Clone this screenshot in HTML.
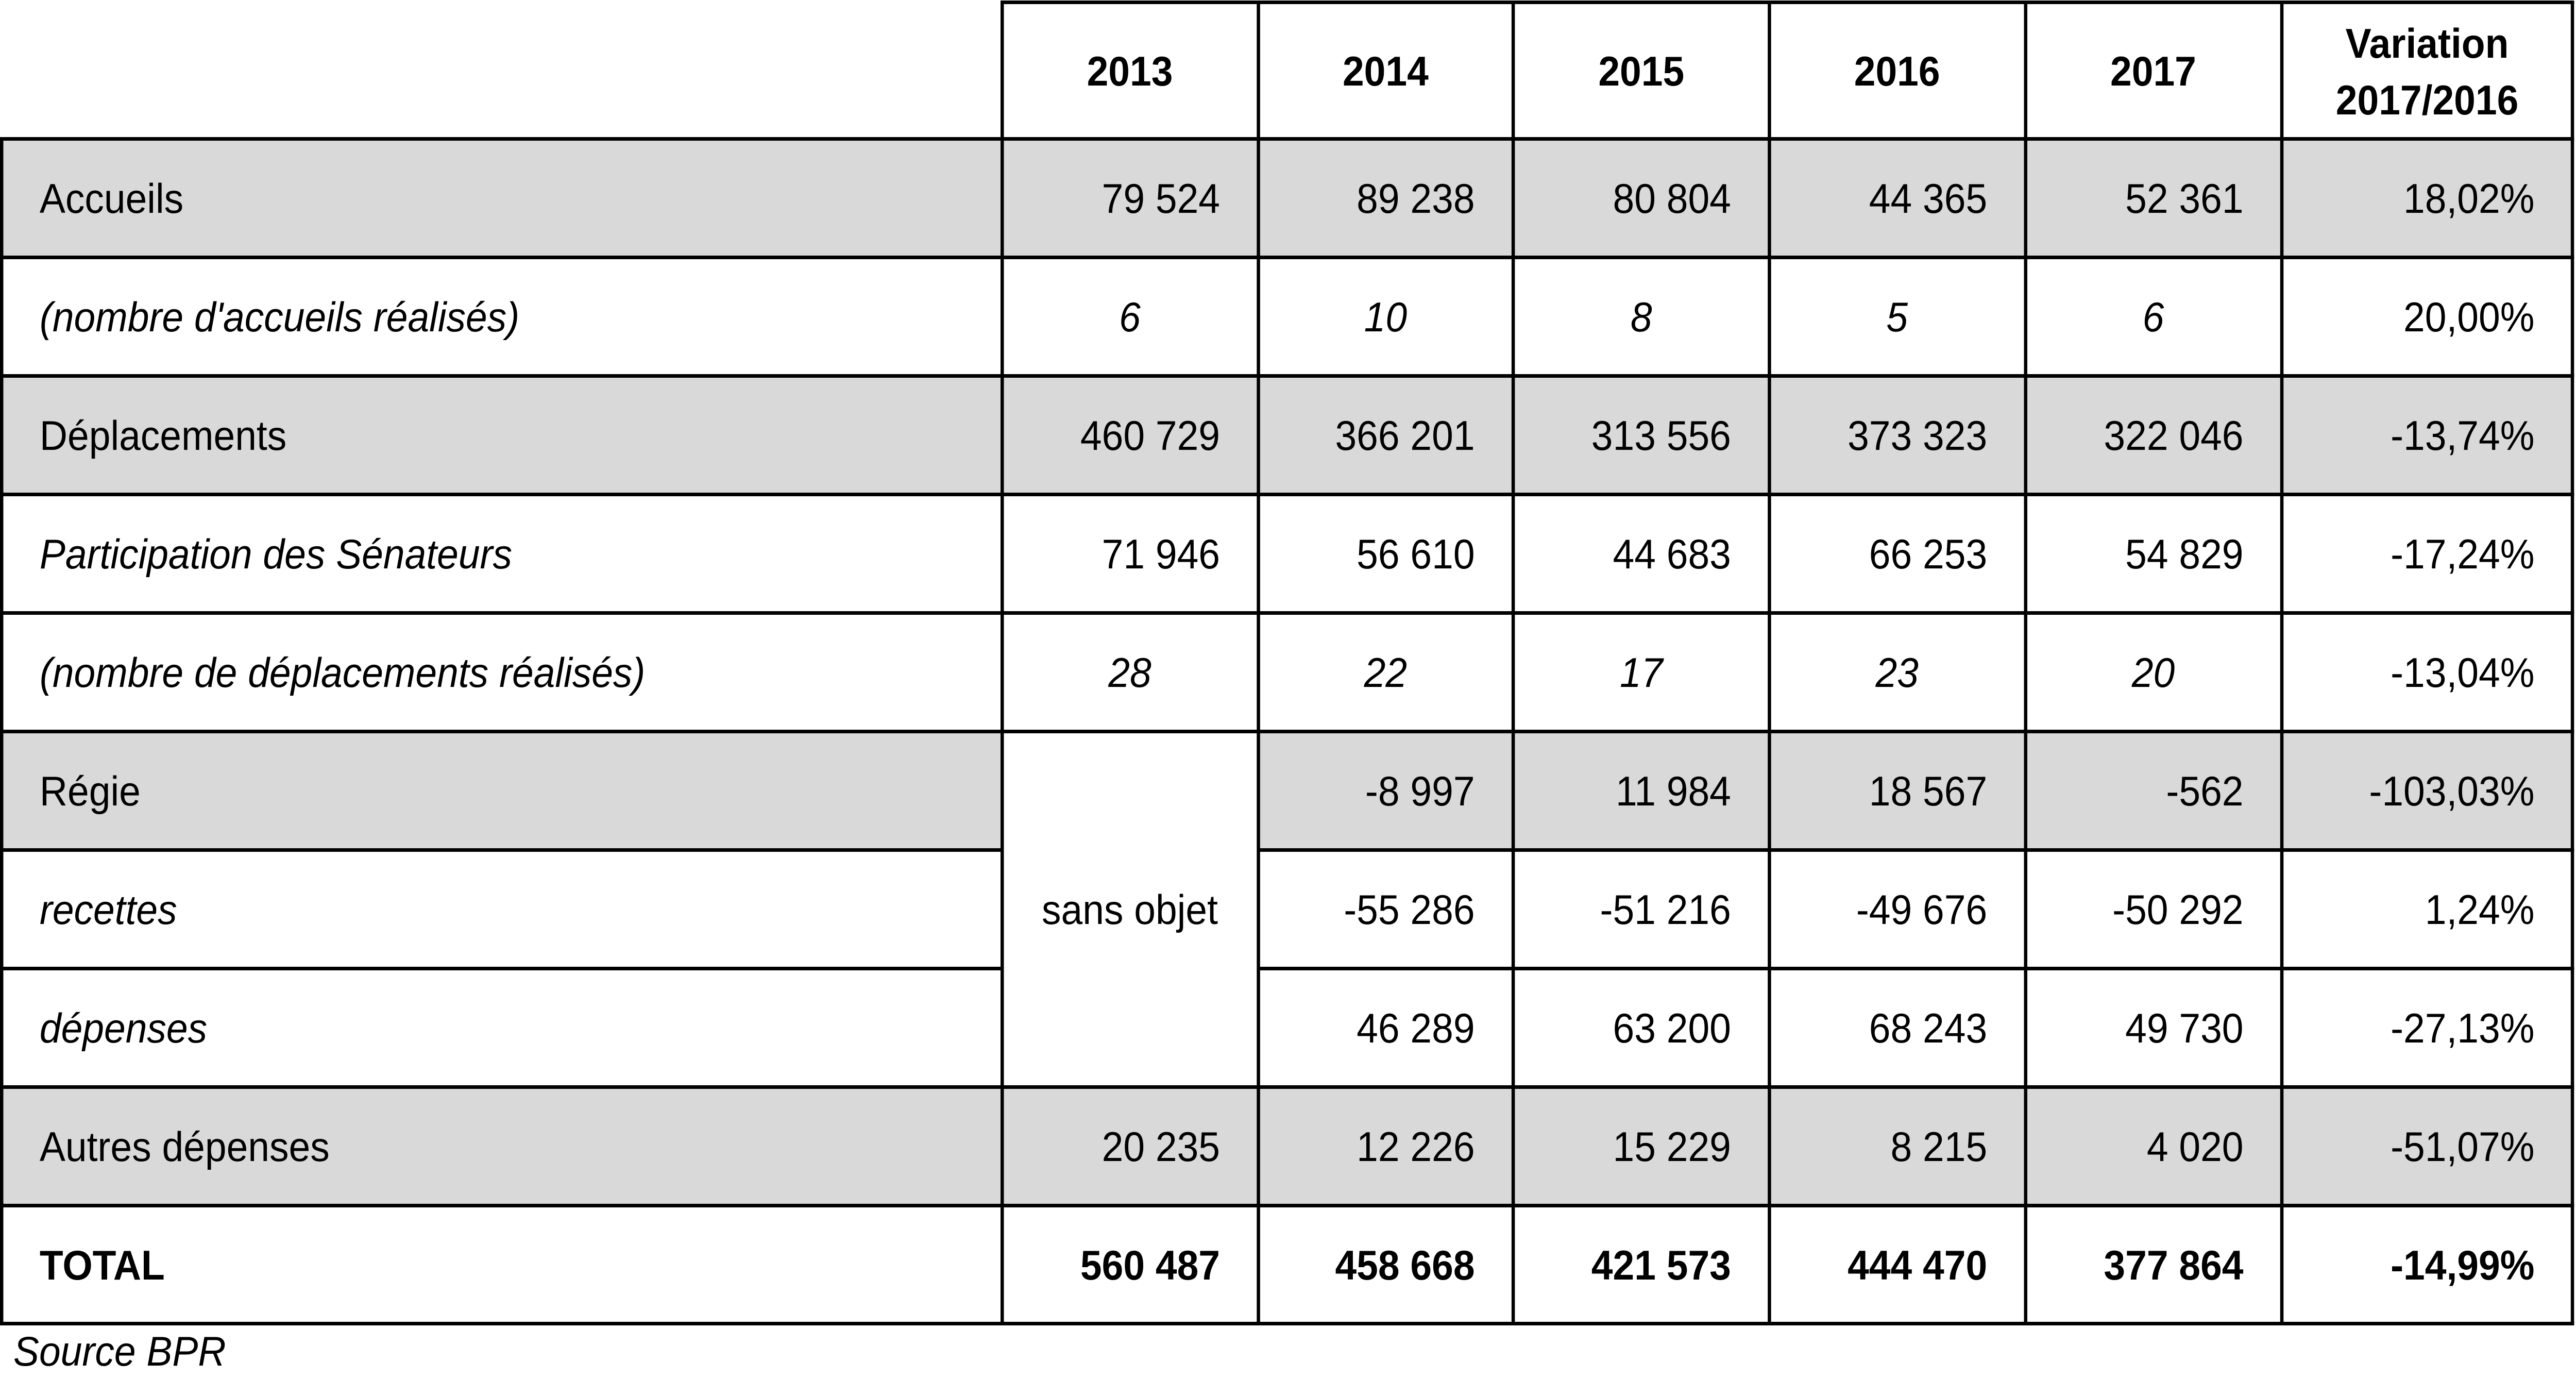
<!DOCTYPE html>
<html><head><meta charset="utf-8">
<style>
html,body{margin:0;padding:0;background:#fff;overflow:hidden;}
svg{display:block;width:100vw;height:2676px;}
text{font-family:"Liberation Sans",Arial,sans-serif;font-size:81px;fill:#000;}
.i{font-style:italic;}
.b{font-weight:bold;}
.e{text-anchor:end;}
.m{text-anchor:middle;}
</style></head><body>
<svg viewBox="0 0 5399 2676" preserveAspectRatio="none" xmlns="http://www.w3.org/2000/svg">
<rect x="0" y="0" width="5399" height="2676" fill="#fff"/>
<g fill="#d9d9d9">
<rect x="0" y="269" width="5392" height="230"/>
<rect x="0" y="729" width="5392" height="230"/>
<rect x="0" y="1419" width="2100" height="230"/>
<rect x="2637" y="1419" width="2755" height="230"/>
<rect x="0" y="2109" width="5392" height="230"/>
</g>

<text class="m b" x="2368" y="166">2013</text>
<text class="m b" x="2904" y="166">2014</text>
<text class="m b" x="3440" y="166">2015</text>
<text class="m b" x="3976" y="166">2016</text>
<text class="m b" x="4513" y="166">2017</text>
<text class="m b" x="5087" y="112">Variation</text>
<text class="m b" x="5087" y="222">2017/2016</text>

<text x="83" y="413">Accueils</text>
<text class="e" x="2557" y="413">79 524</text>
<text class="e" x="3091" y="413">89 238</text>
<text class="e" x="3628" y="413">80 804</text>
<text class="e" x="4165" y="413">44 365</text>
<text class="e" x="4702" y="413">52 361</text>
<text class="e" x="5312" y="413">18,02%</text>

<text class="i" x="83" y="643">(nombre d'accueils réalisés)</text>
<text class="i m" x="2368" y="643">6</text>
<text class="i m" x="2904" y="643">10</text>
<text class="i m" x="3440" y="643">8</text>
<text class="i m" x="3976" y="643">5</text>
<text class="i m" x="4513" y="643">6</text>
<text class="e" x="5312" y="643">20,00%</text>

<text x="83" y="873">Déplacements</text>
<text class="e" x="2557" y="873">460 729</text>
<text class="e" x="3091" y="873">366 201</text>
<text class="e" x="3628" y="873">313 556</text>
<text class="e" x="4165" y="873">373 323</text>
<text class="e" x="4702" y="873">322 046</text>
<text class="e" x="5312" y="873">-13,74%</text>

<text class="i" x="83" y="1103">Participation des Sénateurs</text>
<text class="e" x="2557" y="1103">71 946</text>
<text class="e" x="3091" y="1103">56 610</text>
<text class="e" x="3628" y="1103">44 683</text>
<text class="e" x="4165" y="1103">66 253</text>
<text class="e" x="4702" y="1103">54 829</text>
<text class="e" x="5312" y="1103">-17,24%</text>

<text class="i" x="83" y="1333">(nombre de déplacements réalisés)</text>
<text class="i m" x="2368" y="1333">28</text>
<text class="i m" x="2904" y="1333">22</text>
<text class="i m" x="3440" y="1333">17</text>
<text class="i m" x="3976" y="1333">23</text>
<text class="i m" x="4513" y="1333">20</text>
<text class="e" x="5312" y="1333">-13,04%</text>

<text x="83" y="1563">Régie</text>
<text class="e" x="3091" y="1563">-8 997</text>
<text class="e" x="3628" y="1563">11 984</text>
<text class="e" x="4165" y="1563">18 567</text>
<text class="e" x="4702" y="1563">-562</text>
<text class="e" x="5312" y="1563">-103,03%</text>
<text class="m" x="2368" y="1793">sans objet</text>

<text class="i" x="83" y="1793">recettes</text>
<text class="e" x="3091" y="1793">-55 286</text>
<text class="e" x="3628" y="1793">-51 216</text>
<text class="e" x="4165" y="1793">-49 676</text>
<text class="e" x="4702" y="1793">-50 292</text>
<text class="e" x="5312" y="1793">1,24%</text>

<text class="i" x="83" y="2023">dépenses</text>
<text class="e" x="3091" y="2023">46 289</text>
<text class="e" x="3628" y="2023">63 200</text>
<text class="e" x="4165" y="2023">68 243</text>
<text class="e" x="4702" y="2023">49 730</text>
<text class="e" x="5312" y="2023">-27,13%</text>

<text x="83" y="2253">Autres dépenses</text>
<text class="e" x="2557" y="2253">20 235</text>
<text class="e" x="3091" y="2253">12 226</text>
<text class="e" x="3628" y="2253">15 229</text>
<text class="e" x="4165" y="2253">8 215</text>
<text class="e" x="4702" y="2253">4 020</text>
<text class="e" x="5312" y="2253">-51,07%</text>

<text class="b" x="83" y="2483">TOTAL</text>
<text class="e b" x="2557" y="2483">560 487</text>
<text class="e b" x="3091" y="2483">458 668</text>
<text class="e b" x="3628" y="2483">421 573</text>
<text class="e b" x="4165" y="2483">444 470</text>
<text class="e b" x="4702" y="2483">377 864</text>
<text class="e b" x="5312" y="2483">-14,99%</text>

<text class="i" x="28" y="2650">Source BPR</text>

<g fill="#000">
<rect x="2097" y="1" width="3298" height="7"/>
<rect x="0" y="266" width="5395" height="7"/>
<rect x="0" y="496" width="5395" height="7"/>
<rect x="0" y="726" width="5395" height="7"/>
<rect x="0" y="956" width="5395" height="7"/>
<rect x="0" y="1186" width="5395" height="7"/>
<rect x="0" y="1416" width="5395" height="7"/>
<rect x="0" y="1646" width="2100" height="7"/>
<rect x="2637" y="1646" width="2758" height="7"/>
<rect x="0" y="1876" width="2100" height="7"/>
<rect x="2637" y="1876" width="2758" height="7"/>
<rect x="0" y="2106" width="5395" height="7"/>
<rect x="0" y="2336" width="5395" height="7"/>
<rect x="0" y="2565" width="5395" height="7"/>

<rect x="0" y="266" width="7" height="2306"/>
<rect x="2097" y="1" width="7" height="2571"/>
<rect x="2634" y="1" width="7" height="2571"/>
<rect x="3168" y="1" width="7" height="2571"/>
<rect x="3705" y="1" width="7" height="2571"/>
<rect x="4242" y="1" width="7" height="2571"/>
<rect x="4779" y="1" width="7" height="2571"/>
<rect x="5388" y="1" width="7" height="2571"/>
</g>
</svg>
</body></html>
